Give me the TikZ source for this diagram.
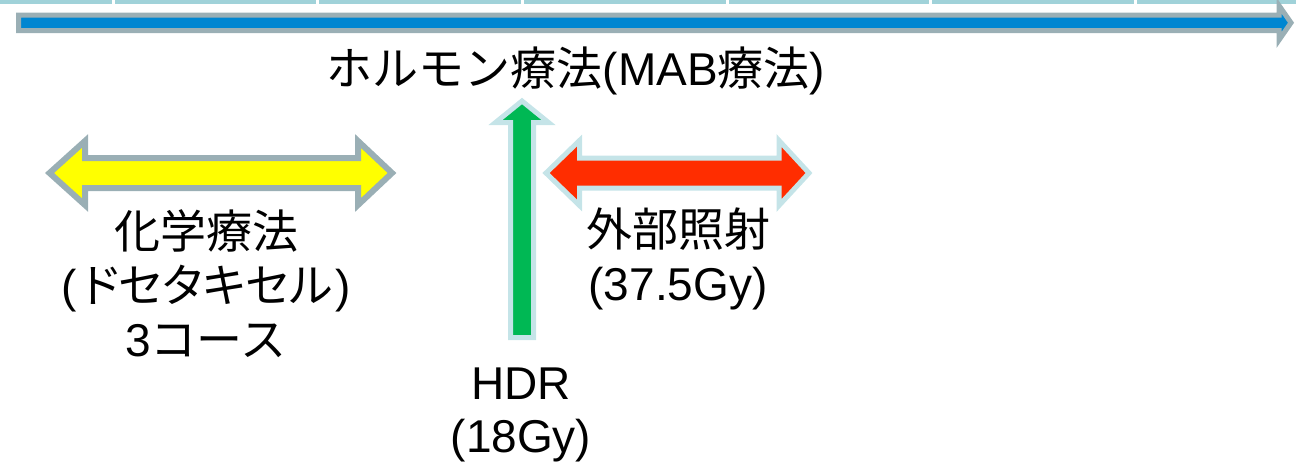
\documentclass[tikz,border=0pt]{standalone}
\usepackage{fontspec}
\setmainfont{Liberation Sans}
\newfontfamily\jp{Noto Sans CJK JP}
\newfontfamily\jpp[RawFeature=+palt]{Noto Sans CJK JP}
\definecolor{topbar}{HTML}{A0D2D9}
\definecolor{tlblue}{HTML}{0086D1}
\definecolor{tlgrey}{HTML}{9AAFB5}
\definecolor{chemo}{HTML}{FFFF00}
\definecolor{ebrt}{HTML}{FF2D00}
\definecolor{hdr}{HTML}{00B854}
\definecolor{paleborder}{HTML}{C5E4E8}
\begin{document}
\begin{tikzpicture}[x=1pt,y=-1pt,
  txt/.style={font=\fontsize{46}{54}\selectfont, inner sep=0pt, anchor=base, align=center},
  cell/.style={fill=topbar, draw=none},
  blockarrow/.style={line join=miter, miter limit=10}]
\useasboundingbox (0,0) rectangle (1296,467);
% top table strip
\foreach \a/\b in {0/112,115/316,319/521,524/726,729/929,932/1134,1137/1296}
  \fill[cell] (\a,0) rectangle (\b,4);
% timeline arrow
\filldraw[blockarrow, fill=tlblue, draw=tlgrey, line width=5pt]
  (18.5,15) -- (1279,15) -- (1279,5.5) -- (1291,22.75) -- (1279,40) -- (1279,30.5) -- (18.5,30.5) -- cycle;
% chemotherapy double arrow
\filldraw[blockarrow, fill=chemo, draw=tlgrey, line width=6pt]
  (49.5,173) -- (85,141) -- (85,158) -- (358,158) -- (358,141) -- (392,173)
  -- (358,205) -- (358,188) -- (85,188) -- (85,205) -- cycle;
% external beam double arrow
\filldraw[blockarrow, fill=ebrt, draw=paleborder, line width=5pt]
  (546,173) -- (579.5,140.5) -- (579.5,158) -- (779,158) -- (779,140.5) -- (809,173)
  -- (779,205.5) -- (779,188) -- (579.5,188) -- (579.5,205.5) -- cycle;
% HDR arrow
\filldraw[blockarrow, fill=hdr, draw=paleborder, line width=5pt]
  (510.5,337.5) -- (510.5,122.5) -- (495.5,122.5) -- (522,101) -- (548.5,122.5)
  -- (533.5,122.5) -- (533.5,337.5) -- cycle;
% texts (base anchor = baseline of last line)
\node[txt] (title) at (576,85) {{\jp ホルモン療法}(MAB{\jp 療法})};
\node[txt] (chemotxt) at (206,356) {{\jp 化学療法}\\(\kern6pt{\jpp ドセタキセル}\kern2pt)\\3{\jp コース}};
\node[txt] (ebrttxt) at (678,300) {{\jp 外部照射}\\(37.5Gy)};
\node[txt, font=\fontsize{46}{53}\selectfont] (hdrtxt) at (521,452) {HDR\\(18Gy)};
\end{tikzpicture}
\end{document}
